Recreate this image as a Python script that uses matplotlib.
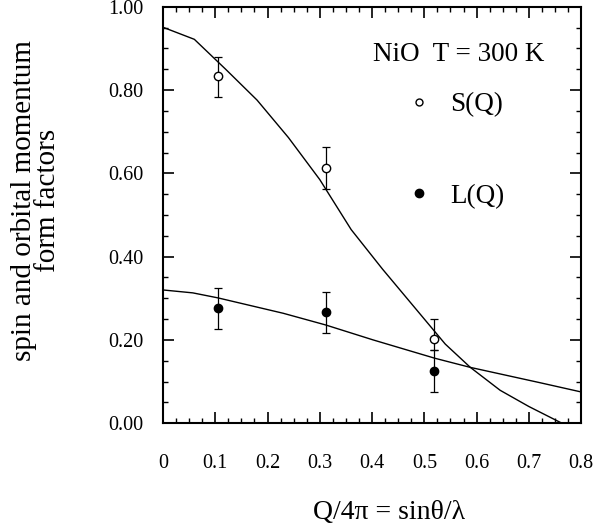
import matplotlib.pyplot as plt
from matplotlib.ticker import MultipleLocator

plt.rcParams['font.family'] = ['Liberation Serif', 'DejaVu Serif']

# measured points
q_pts = [0.105, 0.311, 0.518]
s_pts = [0.834, 0.613, 0.201]
s_lo = [0.784, 0.563, 0.175]
s_hi = [0.880, 0.664, 0.250]
l_pts = [0.276, 0.266, 0.126]
l_lo = [0.226, 0.217, 0.076]
l_hi = [0.325, 0.316, 0.175]

# calculated curves
s_x = [0.0, 0.06, 0.12, 0.18, 0.24, 0.30, 0.36, 0.42, 0.48, 0.54, 0.588, 0.645, 0.70, 0.763]
s_y = [0.951, 0.922, 0.85, 0.776, 0.686, 0.585, 0.465, 0.37, 0.28, 0.19, 0.134, 0.079, 0.04, 0.0]
l_x = [0.0, 0.057, 0.105, 0.23, 0.311, 0.402, 0.52, 0.588, 0.722, 0.8]
l_y = [0.320, 0.313, 0.301, 0.264, 0.236, 0.200, 0.156, 0.134, 0.097, 0.075]

fig = plt.figure(figsize=(6.15, 5.27), dpi=100)
ax = fig.add_axes([0.265, 0.197, 0.68, 0.79])

ax.plot(s_x, s_y, color='black', lw=1.0)
ax.plot(l_x, l_y, color='black', lw=1.0)

s_err = [[s - lo for s, lo in zip(s_pts, s_lo)], [hi - s for s, hi in zip(s_pts, s_hi)]]
l_err = [[s - lo for s, lo in zip(l_pts, l_lo)], [hi - s for s, hi in zip(l_pts, l_hi)]]
ax.errorbar(q_pts, s_pts, yerr=s_err, fmt='o', mfc='white', mec='black', ecolor='black',
            ms=6, elinewidth=0.9, capsize=3, capthick=0.9)
ax.errorbar(q_pts, l_pts, yerr=l_err, fmt='o', mfc='black', mec='black', ecolor='black',
            ms=6, elinewidth=0.9, capsize=3, capthick=0.9)

ax.set_xlim(0, 0.8)
ax.set_ylim(0, 1.0)
ax.xaxis.set_minor_locator(MultipleLocator(0.025))
ax.yaxis.set_minor_locator(MultipleLocator(0.05))
ax.set_yticks([0, 0.2, 0.4, 0.6, 0.8, 1.0])
ax.set_yticklabels(['0.00', '0.20', '0.40', '0.60', '0.80', '1.00'])
ax.set_xticks([0, 0.1, 0.2, 0.3, 0.4, 0.5, 0.6, 0.7, 0.8])
ax.set_xticklabels(['0', '0.1', '0.2', '0.3', '0.4', '0.5', '0.6', '0.7', '0.8'])
ax.tick_params(which='both', direction='in', top=True, right=True, labelsize=14.5)
ax.tick_params(which='major', length=8, width=1.2)
ax.tick_params(which='minor', length=3.5, width=1.0)
ax.tick_params(axis='x', pad=22)
ax.tick_params(axis='y', pad=14)
for sp in ax.spines.values():
    sp.set_linewidth(1.5)

ax.text(0.402, 0.885, 'NiO  T = 300 K', fontsize=19.5, ha='left', va='center')
ax.plot([0.49], [0.772], 'o', mfc='white', mec='black', ms=5)
ax.text(0.549, 0.766, 'S(Q)', fontsize=19.5, ha='left', va='center')
ax.plot([0.49], [0.553], 'o', mfc='black', mec='black', ms=6)
ax.text(0.549, 0.545, 'L(Q)', fontsize=19.5, ha='left', va='center')

fig.text(0.633, 0.028, 'Q/4\u03c0 = sin\u03b8/\u03bb', fontsize=20, ha='center', va='center')
fig.text(0.0585, 0.619, 'spin and orbital momentum\nform factors', fontsize=21,
         rotation=90, ha='center', va='center', linespacing=0.9)

fig.savefig('out.png', dpi=100)
